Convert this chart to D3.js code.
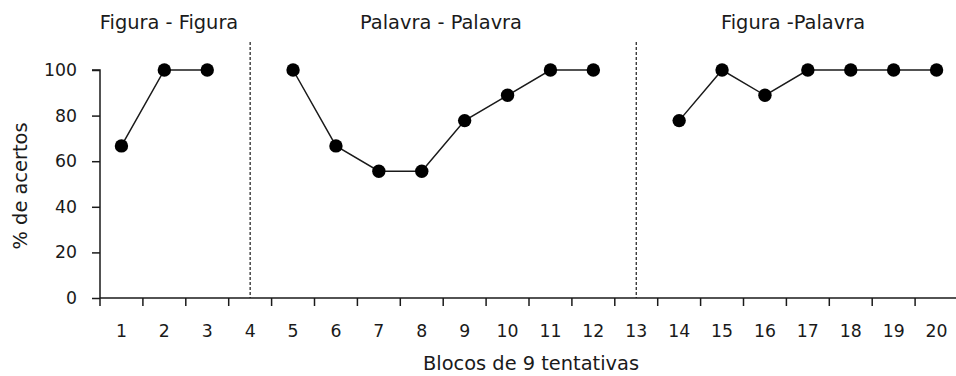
<!DOCTYPE html>
<html>
<head>
<meta charset="utf-8">
<script src="https://cdn.jsdelivr.net/npm/d3@7"></script>
<style>
  html, body { margin: 0; padding: 0; background: #fff; }
  svg { display: block; }
  text { font-family: "DejaVu Sans", sans-serif; fill: #1a1a1a; }
</style>
</head>
<body>
<svg id="chart" width="956" height="376"></svg>
<script>
// Blocks of 9 trials and percentage of correct answers per block
const blocks = d3.range(1, 21);
const phaseNames = ["Figura - Figura", "Palavra - Palavra", "Figura -Palavra"];
const phaseBlocks = [[1, 2, 3], [5, 6, 7, 8, 9, 10, 11, 12], [14, 15, 16, 17, 18, 19, 20]];
const phaseValues = [
  [66.7, 100, 100],
  [100, 66.7, 55.6, 55.6, 77.8, 88.9, 100, 100],
  [77.8, 100, 88.9, 100, 100, 100, 100]
];
const phaseDividers = [4, 13];
const yTicks = [0, 20, 40, 60, 80, 100];

const svg = d3.select("#chart");
const W = 956;
const left = 100, right = 958;
const ink = "#1a1a1a";
const tickFont = 17.3, titleFont = 19.4;

const x = d3.scaleBand().domain(blocks).range([left, right]).padding(0);
const y = d3.scaleLinear().domain([0, 100]).range([298, 70]);
const cx = d => x(d) + x.bandwidth() / 2;

// y axis
const yAxis = svg.append("g").attr("transform", `translate(${left},0)`)
  .call(d3.axisLeft(y).tickValues(yTicks).tickSize(8).tickPadding(15));
yAxis.select(".domain").attr("d", `M-8,${y(100)}H0V${y(0)}`);
yAxis.selectAll("line, path").attr("stroke", ink).attr("stroke-width", 1.5);
yAxis.selectAll("text").attr("font-size", tickFont).attr("fill", ink)
  .style("font-family", "'DejaVu Sans', sans-serif");

// x axis: ticks at category boundaries, labels at centres
const xg = svg.append("g").attr("transform", `translate(0,${y(0)})`);
xg.append("line").attr("x1", left).attr("x2", W).attr("y1", 0).attr("y2", 0)
  .attr("stroke", ink).attr("stroke-width", 1.5);
xg.selectAll("line.tick").data(blocks).join("line").attr("class", "tick")
  .attr("x1", d => x(d)).attr("x2", d => x(d)).attr("y1", 0).attr("y2", 8)
  .attr("stroke", ink).attr("stroke-width", 1.5);
xg.selectAll("text").data(blocks).join("text")
  .attr("x", d => cx(d)).attr("y", 39)
  .attr("text-anchor", "middle").attr("font-size", tickFont).text(d => d);

// phase dividers
svg.selectAll("line.divider").data(phaseDividers).join("line").attr("class", "divider")
  .attr("x1", d => cx(d)).attr("x2", d => cx(d))
  .attr("y1", 42).attr("y2", y(0))
  .attr("stroke", ink).attr("stroke-width", 1.2).attr("stroke-dasharray", "3,2");

// phase titles
const titlePos = [169, 441, 793];
svg.selectAll("text.phase").data(phaseNames).join("text").attr("class", "phase")
  .attr("x", (d, i) => titlePos[i]).attr("y", 29)
  .attr("text-anchor", "middle").attr("font-size", titleFont).text(d => d);

// series lines and markers per phase
const line = d3.line().x(d => cx(d[0])).y(d => y(d[1]));
phaseBlocks.forEach((bs, i) => {
  const pts = bs.map((b, j) => [b, phaseValues[i][j]]);
  svg.append("path").datum(pts).attr("d", line)
    .attr("fill", "none").attr("stroke", ink).attr("stroke-width", 1.5);
  svg.append("g").selectAll("circle").data(pts).join("circle")
    .attr("cx", d => cx(d[0])).attr("cy", d => y(d[1])).attr("r", 6.7).attr("fill", "#000");
});

// axis titles
svg.append("text").attr("x", 531).attr("y", 370).attr("text-anchor", "middle")
  .attr("font-size", titleFont).text("Blocos de 9 tentativas");
svg.append("text").attr("transform", "translate(27,186) rotate(-90)")
  .attr("text-anchor", "middle").attr("font-size", titleFont).text("% de acertos");
</script>
</body>
</html>
